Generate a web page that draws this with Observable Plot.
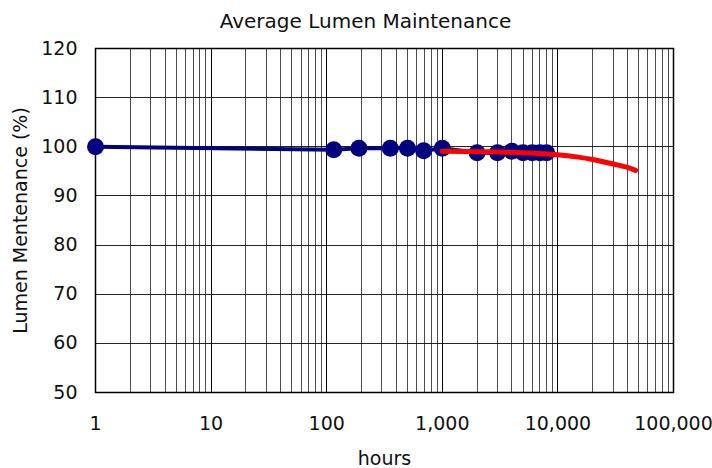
<!DOCTYPE html>
<html>
<head>
<meta charset="utf-8">
<script src="https://cdn.jsdelivr.net/npm/d3@7"></script>
<script src="https://cdn.jsdelivr.net/npm/@observablehq/plot@0.6"></script>
<style>
  body { margin: 0; background: white; font-family: "DejaVu Sans", sans-serif; }
  #title { height: 38px; line-height: 42px; font-size: 20px; text-align: center; padding-left: 19px; color: #111; box-sizing: border-box; width: 712px; }
</style>
</head>
<body>
<div id="title">Average Lumen Maintenance</div>
<div id="chart"></div>
<script>
// measured data
const hours = [1, 115, 190, 355, 500, 690, 1000, 2000, 3000, 4000, 5000, 6000, 7000, 8000];
const lumen = [100, 99.4, 99.7, 99.7, 99.7, 99.2, 99.7, 98.8, 98.8, 99.1, 98.8, 98.8, 98.8, 98.8];
// projected (red) curve
const fitHours = [1000, 2000, 5000, 10000, 15000, 20000, 30000, 40000, 47000];
const fitLumen = [99.1, 99.0, 98.8, 98.4, 97.9, 97.4, 96.5, 95.8, 95.2];
// axes
const xTicks = [1, 10, 100, 1000, 10000, 100000];
const minorTicks = [2,3,4,5,6,7,8,9,20,30,40,50,60,70,80,90,200,300,400,500,600,700,800,900,2000,3000,4000,5000,6000,7000,8000,9000,20000,30000,40000,50000,60000,70000,80000,90000];
const yTicks = [50, 60, 70, 80, 90, 100, 110, 120];

const measured = hours.map((h, i) => ({h, v: lumen[i]}));
const fit = fitHours.map((h, i) => ({h, v: fitLumen[i]}));

const chart = Plot.plot({
  width: 712,
  height: 430,
  marginLeft: 95,
  marginRight: 39,
  marginTop: 10,
  marginBottom: 76,
  style: {fontFamily: "DejaVu Sans", fontSize: "19px", color: "#111", background: "white"},
  x: {type: "log", domain: [1, 100000]},
  y: {domain: [50, 120]},
  marks: [
    Plot.ruleX(minorTicks, {stroke: "#000", strokeOpacity: 0.7, shapeRendering: "crispEdges"}),
    Plot.ruleX(xTicks, {stroke: "#000", shapeRendering: "crispEdges"}),
    Plot.ruleY(yTicks, {stroke: "#000", strokeOpacity: 0.85, shapeRendering: "crispEdges"}),
    Plot.frame({stroke: "#000", strokeWidth: 1.5}),
    Plot.line(measured, {x: "h", y: "v", stroke: "#000080", strokeWidth: 4}),
    Plot.dot(measured, {x: "h", y: "v", r: 8.5, fill: "#000080", stroke: "none"}),
    Plot.line(fit, {x: "h", y: "v", stroke: "#ff0000", strokeWidth: 5, curve: "catmull-rom", strokeLinecap: "round"}),
    Plot.axisX(xTicks, {tickSize: 0, tickPadding: 24, tickFormat: d3.format(","), label: null}),
    Plot.axisY(yTicks, {tickSize: 0, tickPadding: 18, label: null}),
    Plot.text(["hours"], {frameAnchor: "bottom", dy: 72, fontSize: 19, fill: "#111"}),
    Plot.text(["Lumen Mentenance (%)"], {frameAnchor: "left", textAnchor: "middle", dx: -75, rotate: -90, fontSize: 19, fill: "#111"})
  ]
});
document.getElementById("chart").appendChild(chart);
</script>
</body>
</html>
